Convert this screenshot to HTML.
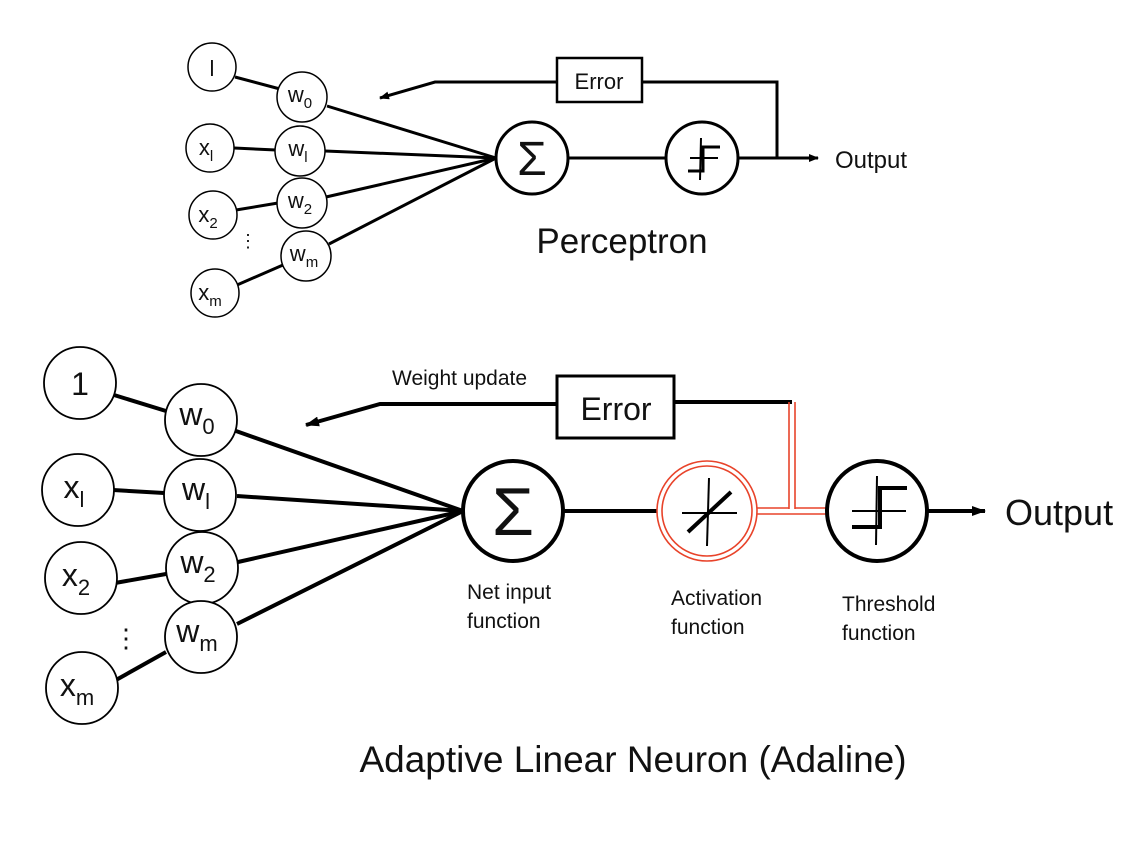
<!DOCTYPE html>
<html><head><style>
html,body{margin:0;padding:0;background:#fff;}
svg{display:block}
text{font-family:"Liberation Sans",sans-serif;fill:#111;}
</style></head><body>
<svg width="1146" height="856" viewBox="0 0 1146 856" xmlns="http://www.w3.org/2000/svg">
<defs>
<marker id="ah" markerWidth="10" markerHeight="8" refX="9" refY="4" orient="auto" markerUnits="userSpaceOnUse"><path d="M0,0 L10,4 L0,8 z" fill="#000"/></marker>
<marker id="ah2" markerWidth="14" markerHeight="10" refX="13" refY="5" orient="auto" markerUnits="userSpaceOnUse"><path d="M0,0 L14,5 L0,10 z" fill="#000"/></marker>
</defs>
<g stroke="#000" stroke-width="3" fill="none">
<line x1="235" y1="77" x2="280" y2="89"/>
<line x1="234" y1="148" x2="276" y2="150"/>
<line x1="236" y1="210" x2="278" y2="203"/>
<line x1="237" y1="285" x2="283" y2="265"/>
<line x1="327" y1="106" x2="496" y2="158"/>
<line x1="325" y1="151" x2="496" y2="158"/>
<line x1="326" y1="197" x2="496" y2="158"/>
<line x1="329" y1="244" x2="496" y2="158"/>
<line x1="568" y1="158" x2="666" y2="158"/>
<line x1="738" y1="158" x2="818" y2="158" marker-end="url(#ah)"/>
<polyline points="777,158 777,82 642,82"/>
<polyline points="557,82 435,82 380,98" marker-end="url(#ah)"/>
</g>
<g stroke="#000" stroke-width="1.5" fill="#fff">
<circle cx="212" cy="67" r="24"/>
<circle cx="210" cy="148" r="24"/>
<circle cx="213" cy="215" r="24"/>
<circle cx="215" cy="293" r="24"/>
<circle cx="302" cy="97" r="25"/>
<circle cx="300" cy="151" r="25"/>
<circle cx="302" cy="203" r="25"/>
<circle cx="306" cy="256" r="25"/>
</g>
<g stroke="#000" stroke-width="3" fill="#fff">
<circle cx="532" cy="158" r="36"/>
<circle cx="702" cy="158" r="36"/>
</g>
<rect x="557" y="58" width="85" height="44" fill="#fff" stroke="#000" stroke-width="2.5"/>
<text x="599" y="89" font-size="22" text-anchor="middle">Error</text>
<g stroke="#000" stroke-width="2" fill="none">
<line x1="701" y1="138" x2="700" y2="180"/>
<line x1="690" y1="158" x2="718" y2="158"/>
<polyline points="688,171 703,171 703,147 720,147" stroke-width="3"/>
</g>
<text x="532" y="175" font-size="48" text-anchor="middle">Σ</text>
<g font-size="22" text-anchor="middle">
<text x="212" y="76">l</text>
<text x="206" y="155">x<tspan font-size="15" dy="6">l</tspan></text>
<text x="208" y="222">x<tspan font-size="15" dy="6">2</tspan></text>
<text x="210" y="300">x<tspan font-size="15" dy="6">m</tspan></text>
<text x="300" y="102">w<tspan font-size="15" dy="6">0</tspan></text>
<text x="298" y="156">w<tspan font-size="15" dy="6">l</tspan></text>
<text x="300" y="208">w<tspan font-size="15" dy="6">2</tspan></text>
<text x="304" y="261">w<tspan font-size="15" dy="6">m</tspan></text>
</g>
<text x="248" y="247" font-size="18" text-anchor="middle">⋮</text>
<text x="835" y="168" font-size="24">Output</text>
<text x="622" y="253" font-size="35" text-anchor="middle">Perceptron</text>
<g stroke="#000" stroke-width="4" fill="none">
<line x1="114" y1="395" x2="166" y2="411"/>
<line x1="113" y1="490" x2="164" y2="493"/>
<line x1="115" y1="583" x2="166" y2="574"/>
<line x1="116" y1="680" x2="166" y2="652"/>
<line x1="236" y1="431" x2="463" y2="511"/>
<line x1="237" y1="496" x2="463" y2="511"/>
<line x1="238" y1="562" x2="463" y2="511"/>
<line x1="237" y1="624" x2="463" y2="511"/>
<line x1="563" y1="511" x2="657" y2="511"/>
<line x1="927" y1="511" x2="985" y2="511" marker-end="url(#ah2)"/>
<polyline points="674,402 792,402"/>
<polyline points="557,404 380,404 306,425" marker-end="url(#ah2)"/>
</g>
<g stroke="#e8432a" stroke-width="1.6" fill="none">
<line x1="789" y1="402" x2="789" y2="509"/>
<line x1="795" y1="402" x2="795" y2="509"/>
<line x1="757" y1="508" x2="789" y2="508"/>
<line x1="795" y1="508" x2="828" y2="508"/>
<line x1="757" y1="514" x2="828" y2="514"/>
</g>
<g stroke="#000" stroke-width="1.8" fill="#fff">
<circle cx="80" cy="383" r="36"/>
<circle cx="78" cy="490" r="36"/>
<circle cx="81" cy="578" r="36"/>
<circle cx="82" cy="688" r="36"/>
<circle cx="201" cy="420" r="36"/>
<circle cx="200" cy="495" r="36"/>
<circle cx="202" cy="568" r="36"/>
<circle cx="201" cy="637" r="36"/>
</g>
<g stroke="#000" stroke-width="4" fill="#fff">
<circle cx="513" cy="511" r="50"/>
<circle cx="877" cy="511" r="50"/>
</g>
<circle cx="707" cy="511" r="50" fill="#fff" stroke="#e8432a" stroke-width="1.6"/>
<circle cx="707" cy="511" r="45" fill="none" stroke="#e8432a" stroke-width="1.6"/>
<g stroke="#000" fill="none">
<line x1="709" y1="478" x2="707" y2="546" stroke-width="2"/>
<line x1="682" y1="513" x2="737" y2="513" stroke-width="2"/>
<line x1="688" y1="532" x2="731" y2="492" stroke-width="4"/>
<line x1="877" y1="476" x2="876" y2="545" stroke-width="2"/>
<line x1="852" y1="511" x2="906" y2="511" stroke-width="2"/>
<polyline points="852,527 880,527 880,488 907,488" stroke-width="4"/>
</g>
<rect x="557" y="376" width="117" height="62" fill="#fff" stroke="#000" stroke-width="3"/>
<text x="616" y="420" font-size="32" text-anchor="middle">Error</text>
<text x="513" y="535" font-size="68" text-anchor="middle">Σ</text>
<g font-size="32" text-anchor="middle">
<text x="80" y="395">1</text>
<text x="74" y="498">x<tspan font-size="22" dy="9">l</tspan></text>
<text x="76" y="586">x<tspan font-size="22" dy="9">2</tspan></text>
<text x="77" y="696">x<tspan font-size="22" dy="9">m</tspan></text>
<text x="197" y="425">w<tspan font-size="22" dy="9">0</tspan></text>
<text x="196" y="500">w<tspan font-size="22" dy="9">l</tspan></text>
<text x="198" y="573">w<tspan font-size="22" dy="9">2</tspan></text>
<text x="197" y="642">w<tspan font-size="22" dy="9">m</tspan></text>
</g>
<text x="126" y="647" font-size="26" text-anchor="middle">⋮</text>
<text x="392" y="385" font-size="21">Weight update</text>
<g font-size="21">
<text x="467" y="599">Net input</text>
<text x="467" y="628">function</text>
<text x="671" y="605">Activation</text>
<text x="671" y="634">function</text>
<text x="842" y="611">Threshold</text>
<text x="842" y="640">function</text>
</g>
<text x="1005" y="525" font-size="36">Output</text>
<text x="633" y="772" font-size="37" text-anchor="middle">Adaptive Linear Neuron (Adaline)</text>
</svg>
</body></html>
